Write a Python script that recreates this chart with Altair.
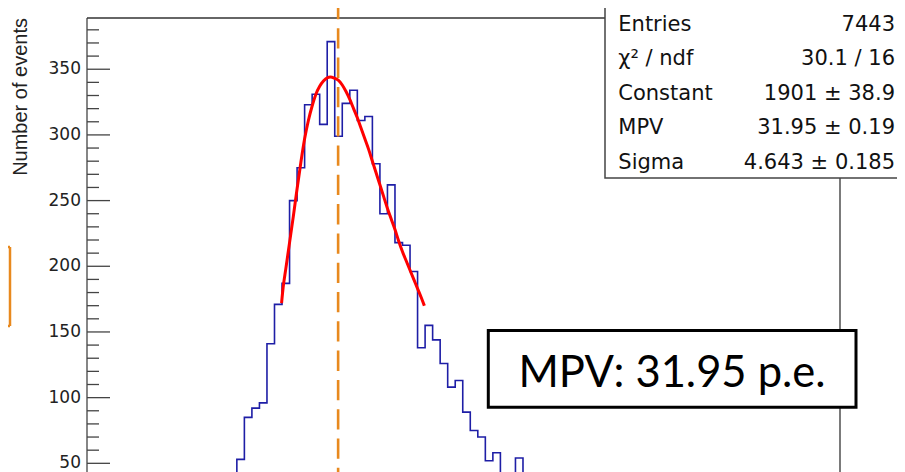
import altair as alt
import pandas as pd

# ---------------- data ----------------
bin_centers = list(range(18, 58))          # p.e. (bin centres, width 1)
counts = [30, 53, 85, 92, 96, 141, 171, 187, 250, 275,
          323, 331, 308, 371, 299, 324, 334, 311, 314, 278,
          240, 262, 218, 216, 196, 138, 155, 144, 126, 108,
          113, 89, 75, 70, 52, 58, 38, 35, 54, 38]

fit_x = [24.44, 24.65, 25.0, 25.5, 26.0, 26.5, 27.0, 27.5, 28.0, 28.5,
         29.0, 29.5, 30.0, 30.5, 30.92, 31.5, 32.0, 32.5, 33.0, 33.5,
         34.0, 34.5, 35.0, 35.5, 36.0, 36.5, 37.0, 37.5, 38.0, 38.5,
         39.0, 39.5, 40.0, 40.5, 41.0, 41.5, 42.0, 42.5, 43.0, 43.4]
fit_y = [172, 184, 198, 218, 238, 259, 279, 297, 311, 322,
         331, 337, 341, 343.5, 344, 343, 341.5, 338, 333, 327,
         320, 313, 305, 297, 289, 280, 271, 262, 253, 244,
         236, 228, 219, 211, 204, 197, 190, 183, 176, 170]

mpv_value = 31.95

stat_labels = ["Entries", "χ² / ndf", "Constant", "MPV", "Sigma"]
stat_values = ["7443", "30.1 / 16", "1901 ± 38.9", "31.95 ± 0.19", "4.643 ± 0.185"]

y_major_ticks = [0, 50, 100, 150, 200, 250, 300, 350]
y_major_labels = ["0", "50", "100", "150", "200", "250", "300", "350"]
y_minor_ticks = [10, 20, 30, 40, 60, 70, 80, 90, 110, 120, 130, 140,
                 160, 170, 180, 190, 210, 220, 230, 240, 260, 270,
                 280, 290, 310, 320, 330, 340, 360, 370, 380]

y_title = "Number of events"
box_text = "MPV: 31.95 p.e."

# ---------------- layout ----------------
W, H = 753, 511
XDOM = [-1.4, 98.6]
YDOM = [0, 389]
AX = "#444444"
MAJOR, MINOR = 23, 12

hist_df = pd.DataFrame({"pe": bin_centers, "n": counts})
fit_df = pd.DataFrame({"pe": fit_x, "n": fit_y})
mpv_df = pd.DataFrame({"mpv": [mpv_value]})
major_df = pd.DataFrame({"tick": y_major_ticks, "label": y_major_labels})
minor_df = pd.DataFrame({"tick": y_minor_ticks})
one = pd.DataFrame({"k": [0]})

xscale = alt.Scale(domain=XDOM, nice=False, zero=False)
yscale = alt.Scale(domain=YDOM, nice=False, zero=False)

# frame (ROOT pad)
frame_left = alt.Chart(one).mark_rule(color=AX, strokeWidth=1.3).encode(
    x=alt.value(0), y=alt.value(0), y2=alt.value(H))
frame_top = alt.Chart(one).mark_rule(color="#333333", strokeWidth=1.3).encode(
    x=alt.value(0), x2=alt.value(W), y=alt.value(0))
frame_right = alt.Chart(one).mark_rule(color="#333333", strokeWidth=1.3).encode(
    x=alt.value(W), y=alt.value(0), y2=alt.value(H))

# inward ticks and labels of the y axis, placed through the y scale
major_ticks = alt.Chart(major_df).mark_rule(color=AX, strokeWidth=1.3).encode(
    y=alt.Y("tick:Q", scale=yscale, axis=None), x=alt.value(0), x2=alt.value(MAJOR))
minor_ticks = alt.Chart(minor_df).mark_rule(color=AX, strokeWidth=1.3).encode(
    y=alt.Y("tick:Q", scale=yscale, axis=None), x=alt.value(0), x2=alt.value(MINOR))
tick_labels = alt.Chart(major_df).mark_text(
    align="right", baseline="middle", font="DejaVu Sans", fontSize=17, color="#222222"
).encode(y=alt.Y("tick:Q", scale=yscale, axis=None), x=alt.value(-6), text="label:N")

title_text = alt.Chart(one).mark_text(
    align="right", baseline="middle", angle=270, font="Liberation Sans",
    fontSize=20, color="#222222"
).encode(x=alt.value(-66.5), y=alt.value(0), text=alt.value(y_title))

hist = alt.Chart(hist_df).mark_line(
    interpolate="step", color="#1e1ea6", strokeWidth=1.6
).encode(x=alt.X("pe:Q", scale=xscale, axis=None),
         y=alt.Y("n:Q", scale=yscale, axis=None))

fit = alt.Chart(fit_df).mark_line(
    interpolate="monotone", color="#ff0000", strokeWidth=3
).encode(x=alt.X("pe:Q", scale=xscale, axis=None),
         y=alt.Y("n:Q", scale=yscale, axis=None))

mpv_rule = alt.Chart(mpv_df).mark_rule(
    color="#e8891e", strokeWidth=2.6, strokeDash=[20.3, 9], strokeDashOffset=9
).encode(
    x=alt.X("mpv:Q", scale=xscale, axis=None),
    y=alt.value(-10), y2=alt.value(H + 40),
)

stats_box = alt.Chart(one).mark_rect(
    fill="white", stroke=AX, strokeWidth=1.5
).encode(x=alt.value(518), x2=alt.value(812), y=alt.value(-14), y2=alt.value(160))

stat_layers = []
for i, (lab, val) in enumerate(zip(stat_labels, stat_values)):
    yy = 12.5 + 34.5 * i
    stat_layers.append(alt.Chart(one).mark_text(
        align="left", baseline="alphabetic", font="DejaVu Sans", fontSize=21,
        color="#111111").encode(x=alt.value(531.3), y=alt.value(yy), text=alt.value(lab)))
    stat_layers.append(alt.Chart(one).mark_text(
        align="right", baseline="alphabetic", font="DejaVu Sans", fontSize=21,
        color="#111111").encode(x=alt.value(808), y=alt.value(yy), text=alt.value(val)))

mpv_box = alt.Chart(one).mark_rect(
    fill="white", stroke="#000000", strokeWidth=3
).encode(x=alt.value(401.3), x2=alt.value(769), y=alt.value(312.5), y2=alt.value(389.3))

mpv_text = alt.Chart(one).mark_text(
    align="center", baseline="alphabetic", font="Lato", fontSize=43.5, color="#000000"
).encode(x=alt.value(585), y=alt.value(368.5), text=alt.value(box_text))

orange = "#e8891e"
frag_v = alt.Chart(one).mark_rule(color=orange, strokeWidth=2.5).encode(
    x=alt.value(-77), y=alt.value(229), y2=alt.value(308))
frag_t = alt.Chart(one).mark_rule(color=orange, strokeWidth=2.5).encode(
    x=alt.value(-80), x2=alt.value(-77), y=alt.value(229))
frag_b = alt.Chart(one).mark_rule(color=orange, strokeWidth=2.5).encode(
    x=alt.value(-80), x2=alt.value(-77), y=alt.value(308))

chart = alt.layer(
    frame_left, frame_top, frame_right, major_ticks, minor_ticks, tick_labels,
    title_text, hist, mpv_rule, fit,
    stats_box, *stat_layers, mpv_box, mpv_text, frag_v, frag_t, frag_b,
).properties(
    width=W, height=H,
    padding={"left": 79, "top": 10, "right": 57, "bottom": 30},
    autosize=alt.AutoSizeParams(type="none"),
    background="white",
).configure_view(strokeWidth=0)

chart.save("out.html", embed_options={"renderer": "svg", "actions": False})
